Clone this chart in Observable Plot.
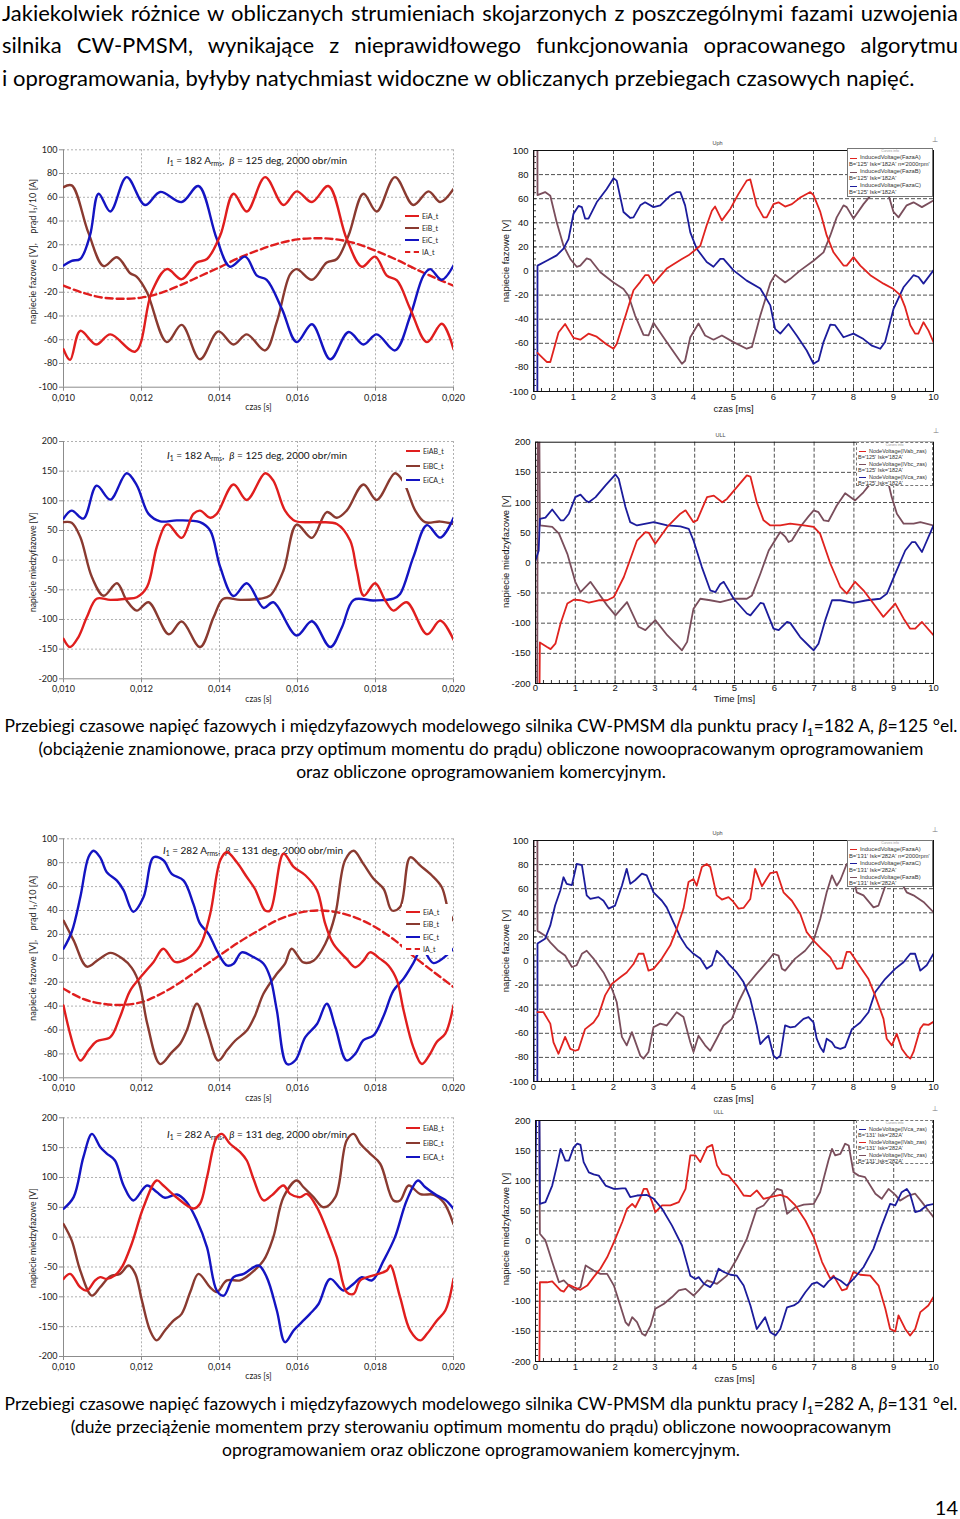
<!DOCTYPE html>
<html><head><meta charset="utf-8">
<script src="https://cdn.jsdelivr.net/npm/d3@7"></script>
<script src="https://cdn.jsdelivr.net/npm/@observablehq/plot@0.6"></script>
<style>
body{margin:0;background:#fff;}
#page{position:relative;width:960px;height:1519px;overflow:hidden;background:#fff;font-family:Lato,"Noto Sans",sans-serif;color:#000}
.jl{text-align:justify;text-align-last:justify}
sub{font-size:0.68em;line-height:0;vertical-align:-0.3em}
.cap{position:absolute;left:0;width:962px;text-align:center;font-size:17.5px;line-height:23px}
.ann{position:absolute;font-size:10px;line-height:14px;white-space:nowrap;color:#111}
.xleg{position:absolute;background:#fff;font-size:7px;color:#222}
.xleg .r{position:absolute;left:0;white-space:nowrap;line-height:10px;height:10px}
.xleg .sw{position:absolute;top:4px;left:0;width:14px;height:0}
.fleg{position:absolute;background:#fff;box-sizing:border-box;font-family:"Liberation Sans",Arial,sans-serif;color:#333;overflow:hidden}
.fleg .l{white-space:nowrap;position:relative}
.ico{position:absolute;font-size:7px;color:#777;font-family:"DejaVu Sans",sans-serif}
</style>
</head><body>
<div id="page">
  <div style="position:absolute;left:2px;top:-3.5px;width:956px;font-size:22px;line-height:32.5px">
    <div class="jl">Jakiekolwiek różnice w obliczanych strumieniach skojarzonych z poszczególnymi fazami uzwojenia</div>
    <div class="jl">silnika CW-PMSM, wynikające z nieprawidłowego funkcjonowania opracowanego algorytmu</div>
    <div>i oprogramowania, byłyby natychmiast widoczne w obliczanych przebiegach czasowych napięć.</div>
  </div>
  <div class="cap" style="top:714px">
    <div>Przebiegi czasowe napięć fazowych i międzyfazowych modelowego silnika CW-PMSM dla punktu pracy <i>I</i><sub>1</sub>=182 A, <i>β</i>=125 °el.</div>
    <div>(obciążenie znamionowe, praca przy optimum momentu do prądu) obliczone nowoopracowanym oprogramowaniem</div>
    <div>oraz obliczone oprogramowaniem komercyjnym.</div>
  </div>
  <div class="cap" style="top:1392px">
    <div>Przebiegi czasowe napięć fazowych i międzyfazowych modelowego silnika CW-PMSM dla punktu pracy <i>I</i><sub>1</sub>=282 A, <i>β</i>=131 °el.</div>
    <div>(duże przeciążenie momentem przy sterowaniu optimum momentu do prądu) obliczone nowoopracowanym</div>
    <div>oprogramowaniem oraz obliczone oprogramowaniem komercyjnym.</div>
  </div>
  <div style="position:absolute;right:2px;top:1494px;font-size:20px;line-height:26px">14</div>
</div>
<script>
// ---------------- tick values ----------------
const xTicksS = [0.010, 0.012, 0.014, 0.016, 0.018, 0.020];
const xTicksMs = [0, 1, 2, 3, 4, 5, 6, 7, 8, 9, 10];
const yT100 = [-100, -80, -60, -40, -20, 0, 20, 40, 60, 80, 100];
const yT200 = [-200, -150, -100, -50, 0, 50, 100, 150, 200];

// ---------------- chart 1: EiA/EiB/EiC/IA, 182 A (time [s], value) ----------------
const c1_EiA = [[0.01000,-68],[0.01017,-77],[0.01043,-52.5],[0.01084,-64],[0.01120,-55.5],[0.01184,-70],[0.01226,-20],[0.01265,-0.5],[0.01303,-9],[0.01342,5],[0.01368,8],[0.01402,28],[0.01436,63],[0.01470,48],[0.01517,77],[0.01564,53.5],[0.01598,65],[0.01637,56],[0.01679,69.5],[0.01726,25],[0.01765,1.5],[0.01799,10],[0.01829,-6],[0.01855,-10],[0.01889,-34],[0.01932,-62],[0.01970,-46.5],[0.02000,-68]];
const c1_EiB = [[0.01000,68.5],[0.01021,70],[0.01064,30],[0.01103,2],[0.01137,9.5],[0.01171,-4],[0.01188,-7],[0.01214,-20],[0.01265,-62],[0.01303,-47.5],[0.01350,-76.5],[0.01397,-53],[0.01436,-64],[0.01470,-55.5],[0.01517,-69],[0.01547,-45],[0.01581,-5],[0.01598,-0.5],[0.01637,-9.5],[0.01675,5],[0.01701,8],[0.01731,28],[0.01769,63],[0.01803,48],[0.01850,77],[0.01897,53.5],[0.01936,65],[0.01966,56],[0.02000,67]];
const c1_EiC = [[0.01000,2.5],[0.01021,6.5],[0.01043,8],[0.01068,28],[0.01090,63],[0.01120,48],[0.01162,77],[0.01209,53.5],[0.01248,64.5],[0.01303,56],[0.01346,69.5],[0.01393,25],[0.01427,1.5],[0.01466,10],[0.01496,-6],[0.01521,-9.5],[0.01560,-34],[0.01598,-62],[0.01637,-47],[0.01684,-76.5],[0.01731,-53.5],[0.01769,-64],[0.01803,-55.5],[0.01850,-69],[0.01889,-40],[0.01923,-6],[0.01940,-0.5],[0.01970,-9.5],[0.02000,2.5]];
const c1_IA = [[0.0100,-14.5],[0.0105,-20.5],[0.0110,-24.5],[0.0115,-25.5],[0.0120,-24.5],[0.0125,-20.5],[0.0130,-14],[0.0135,-6.5],[0.0140,1],[0.0145,9],[0.0150,15.5],[0.0155,21],[0.0160,24.5],[0.0165,25.5],[0.0170,24.5],[0.0175,21],[0.0180,15],[0.0185,8],[0.0190,0],[0.0195,-7.5],[0.0200,-14.5]];

// ---------------- chart 2: Flux Uph, 182 A (time [ms], value) ----------------
const c2_A = [[0.1,-68],[0.33,-75.5],[0.42,-75.5],[0.625,-51],[0.79,-44],[1.0,-55.5],[1.17,-57],[1.375,-52],[1.58,-54.5],[1.83,-61],[2.0,-64.5],[2.08,-60.5],[2.25,-42.5],[2.5,-16],[2.67,-9],[2.79,-3.5],[2.875,-3.5],[3.0,-10.5],[3.33,2],[3.71,10],[3.875,13],[4.17,21],[4.33,38],[4.46,50],[4.54,53.5],[4.71,42],[4.92,51.5],[5.125,64],[5.33,75],[5.42,76],[5.58,54.5],[5.75,44.5],[5.83,44.5],[6.0,55.5],[6.125,57],[6.29,53.5],[6.46,55.5],[6.67,61],[6.92,65.5],[7.0,63],[7.17,49],[7.33,29.5],[7.5,15.5],[7.75,4.5],[7.83,4.5],[8.0,11.5],[8.17,4.5],[8.42,-3.5],[8.75,-10.5],[9.0,-15],[9.17,-20],[9.29,-30],[9.42,-45],[9.54,-52],[9.62,-52],[9.75,-42.5],[9.875,-49.5],[10,-59]];
const c2_B = [[0,63],[0.02,300],[0.09,300],[0.1,63],[0.29,65.5],[0.42,62.5],[0.58,40.5],[0.75,21],[0.92,10],[1.08,3.5],[1.17,4.5],[1.33,10.5],[1.42,9.5],[1.67,-1],[2.0,-9.5],[2.25,-15],[2.375,-20.5],[2.54,-37],[2.75,-53],[2.875,-53.5],[3.0,-43],[3.33,-59],[3.71,-77],[3.79,-74.5],[3.92,-55],[4.125,-43.5],[4.29,-53.5],[4.5,-57],[4.71,-53.5],[5.0,-59],[5.33,-64.5],[5.46,-63],[5.67,-37],[5.92,-10],[6.04,-3],[6.17,-6.5],[6.29,-9.5],[6.42,-6.5],[6.67,0.5],[7.0,8.5],[7.25,15.5],[7.42,29.5],[7.58,44.5],[7.75,54.5],[7.83,53],[8.0,43.5],[8.25,55.5],[8.46,64],[8.67,76],[8.875,63],[9.0,49],[9.125,44.5],[9.33,54.5],[9.5,57],[9.71,53],[10,58.5]];
const c2_C = [[0,4],[0.02,-300],[0.09,-300],[0.1,4.5],[0.33,8.5],[0.58,13],[0.75,18.5],[0.875,26.5],[1.0,47.5],[1.125,54],[1.21,53],[1.29,43.5],[1.375,43.5],[1.58,57],[1.83,68],[2.0,77],[2.08,75],[2.25,49],[2.42,44],[2.5,44.5],[2.67,54.5],[2.79,57],[3.0,53],[3.17,54.5],[3.42,62.5],[3.58,65.5],[3.67,65.5],[3.79,54.5],[3.92,32],[4.08,18.5],[4.33,7.5],[4.5,3.5],[4.67,10],[4.75,10],[5.0,0.5],[5.33,-8],[5.67,-14.5],[5.92,-28.5],[6.04,-48],[6.17,-52],[6.375,-44],[6.58,-53.5],[6.83,-66],[7.0,-77],[7.125,-74.5],[7.25,-59],[7.42,-44.5],[7.54,-45],[7.75,-55],[8.0,-52],[8.25,-56.5],[8.46,-62],[8.67,-64.5],[8.79,-59],[9.0,-31.5],[9.25,-13.5],[9.5,-3.5],[9.625,-5],[9.75,-10.5],[10,0.5]];

// ---------------- chart 3: EiAB/EiBC/EiCA, 182 A ----------------
const c3_AB = [[0.01000,-132.5],[0.01017,-146.5],[0.01038,-130],[0.01060,-96],[0.01085,-65],[0.01120,-67],[0.01162,-65],[0.01188,-62.5],[0.01214,-45.5],[0.01239,22],[0.01261,58.5],[0.01270,60],[0.01303,37.5],[0.01333,78],[0.01350,83.5],[0.01376,71.5],[0.01393,78],[0.01436,127.5],[0.01470,101.5],[0.01517,146.5],[0.01538,134],[0.01568,83.5],[0.01594,66],[0.01650,64],[0.01701,61],[0.01735,33],[0.01752,-17],[0.01770,-60],[0.01799,-39],[0.01825,-68],[0.01846,-85],[0.01880,-71],[0.01932,-125],[0.01966,-102],[0.02000,-134]];
const c3_BC = [[0.01000,64],[0.01021,63],[0.01043,39],[0.01073,-29],[0.01103,-60],[0.01137,-39],[0.01162,-68],[0.01188,-85],[0.01218,-71],[0.01270,-125],[0.01303,-103.5],[0.01350,-146.5],[0.01385,-96],[0.01410,-65],[0.01453,-67],[0.01504,-65],[0.01530,-59.5],[0.01564,-17.5],[0.01598,60],[0.01637,37.5],[0.01675,81],[0.01701,71.5],[0.01726,83.5],[0.01769,127.5],[0.01803,101.5],[0.01850,146.5],[0.01872,131.5],[0.01902,83.5],[0.01927,64],[0.01966,65],[0.02000,61]];
const c3_CA = [[0.01000,70],[0.01021,83.5],[0.01051,70],[0.01085,125.5],[0.01120,102],[0.01162,146.5],[0.01188,126],[0.01218,78],[0.01248,65.5],[0.01291,67],[0.01350,64],[0.01376,50],[0.01402,-12],[0.01436,-60.5],[0.01470,-39],[0.01513,-80.5],[0.01538,-71],[0.01598,-127],[0.01637,-103],[0.01684,-146.5],[0.01714,-113],[0.01744,-67],[0.01795,-68],[0.01846,-65],[0.01863,-57],[0.01897,5],[0.01932,59],[0.01966,38],[0.02000,71]];

// ---------------- chart 4: Flux ULL, 182 A ----------------
const c4_AB = [[0,-300],[0.09,-300],[0.11,-132],[0.29,-139.5],[0.38,-143],[0.5,-134],[0.63,-100.5],[0.8,-67.5],[0.96,-61],[1.13,-62],[1.34,-66],[1.59,-62],[1.8,-62],[1.97,-56.5],[2.22,-23.5],[2.55,37],[2.76,51],[2.85,49.5],[3.01,31.5],[3.31,59.5],[3.64,81.5],[3.77,87],[3.97,67.5],[4.06,70.5],[4.31,109],[4.48,111.5],[4.69,100.5],[4.81,106],[5.06,125.5],[5.31,145],[5.4,143],[5.56,100.5],[5.73,70.5],[5.9,62],[6.15,62],[6.4,65],[6.74,62],[6.99,59.5],[7.15,48.5],[7.41,-1.5],[7.66,-40],[7.82,-51],[8.03,-31.5],[8.24,-45.5],[8.49,-67.5],[8.74,-89.5],[9.04,-67.5],[9.25,-92.5],[9.41,-109],[9.54,-109],[9.71,-98],[10,-120]];
const c4_BC = [[0.04,-300],[0.06,300],[0.09,300],[0.11,62],[0.42,59.5],[0.59,48.5],[0.8,15],[1.0,-31.5],[1.13,-48.5],[1.38,-31.5],[1.8,-70.5],[2.01,-87],[2.3,-65],[2.59,-106],[2.76,-111.5],[3.01,-95],[3.31,-120],[3.68,-145],[3.81,-131],[3.97,-76],[4.14,-59.5],[4.39,-62],[4.64,-65],[4.98,-59.5],[5.31,-59.5],[5.44,-54],[5.65,-18],[5.86,20.5],[6.07,43],[6.15,51],[6.28,43],[6.36,34.5],[6.44,37],[6.65,59.5],[6.86,77],[6.99,87],[7.11,84],[7.24,70.5],[7.36,69],[7.57,95],[7.78,115.5],[8.03,103.5],[8.24,117],[8.41,131],[8.67,145],[8.87,131],[8.95,109],[9.08,81.5],[9.25,65],[9.5,65],[9.67,67.5],[10,62]];
const c4_CA = [[0,4],[0.08,20],[0.11,73],[0.25,75],[0.42,88.5],[0.63,70.5],[0.71,70.5],[0.84,81.5],[1.0,109],[1.13,113],[1.26,103.5],[1.34,100.5],[1.51,109],[1.76,128.5],[2.01,146.5],[2.09,139.5],[2.26,92.5],[2.38,67.5],[2.55,62],[2.97,67.5],[3.31,62],[3.64,60.5],[3.85,56.5],[3.97,37],[4.18,-7],[4.39,-45.5],[4.52,-48.5],[4.64,-35.5],[4.73,-31.5],[4.98,-59.5],[5.31,-84],[5.4,-87],[5.65,-66.5],[5.73,-67.5],[5.98,-109],[6.11,-111.5],[6.32,-98],[6.4,-99.5],[6.65,-123],[6.9,-139.5],[6.99,-145],[7.11,-134],[7.28,-95],[7.45,-62],[7.66,-62],[7.99,-66.5],[8.33,-62],[8.66,-59.5],[8.83,-51],[9.04,-18],[9.29,20.5],[9.46,34.5],[9.54,34.5],[9.71,18],[10,62]];

// ---------------- chart 5: EiA/EiB/EiC/IA, 282 A ----------------
const c5_EiA = [[0.01000,-39.5],[0.01043,-85.5],[0.01064,-77],[0.01085,-69.5],[0.01120,-66],[0.01145,-49],[0.01171,-27],[0.01205,-13],[0.01231,-3],[0.01256,8],[0.01286,-3],[0.01316,-0.5],[0.01350,10.5],[0.01376,37],[0.01402,82],[0.01419,89],[0.01444,80.5],[0.01470,68],[0.01491,58],[0.01517,40],[0.01530,40],[0.01564,87.5],[0.01590,76.5],[0.01620,69.5],[0.01650,57],[0.01671,29],[0.01692,12],[0.01726,-0.5],[0.01748,-7.5],[0.01769,-2],[0.01786,5],[0.01812,-0.5],[0.01833,-6],[0.01855,-18.5],[0.01872,-43.5],[0.01897,-74.5],[0.01919,-88.5],[0.01940,-80],[0.01957,-70],[0.01979,-63],[0.02000,-39.5]];
const c5_EiB = [[0.01000,31.5],[0.01026,15],[0.01060,-7],[0.01090,-1],[0.01120,4.5],[0.01150,0],[0.01175,-8],[0.01195,-22],[0.01215,-55],[0.01248,-88.5],[0.01278,-78.5],[0.01299,-71.5],[0.01316,-60.5],[0.01342,-38],[0.01368,-60.5],[0.01397,-85.5],[0.01419,-77],[0.01440,-69],[0.01470,-60.5],[0.01491,-48],[0.01513,-29.5],[0.01547,-13],[0.01568,-4.5],[0.01585,8],[0.01615,-3.5],[0.01641,-2],[0.01671,12],[0.01697,37],[0.01722,82],[0.01744,90],[0.01769,79],[0.01795,66.5],[0.01821,58],[0.01842,40],[0.01863,43],[0.01889,84.5],[0.01915,77.5],[0.01944,69.5],[0.01970,59.5],[0.01987,40],[0.02000,31.5]];
const c5_EiC = [[0.01000,8],[0.01021,22],[0.01043,51],[0.01064,84.5],[0.01077,90],[0.01094,84.5],[0.01111,72],[0.01137,65],[0.01154,57],[0.01179,39],[0.01205,51],[0.01231,84.5],[0.01256,82],[0.01278,70.5],[0.01308,65],[0.01333,45.5],[0.01350,29],[0.01372,20.5],[0.01393,6.5],[0.01419,-6],[0.01436,-4.5],[0.01457,5],[0.01487,1],[0.01513,-4.5],[0.01530,-16],[0.01547,-43.5],[0.01573,-88.5],[0.01594,-85.5],[0.01620,-66],[0.01650,-55],[0.01675,-38],[0.01697,-57.5],[0.01726,-85.5],[0.01748,-80],[0.01769,-68.5],[0.01795,-64.5],[0.01821,-48],[0.01846,-27],[0.01872,-17],[0.01897,-4],[0.01919,8],[0.01949,-4],[0.02000,8]];
const c5_IA = [[0.0100,-25.5],[0.0105,-34],[0.0110,-38],[0.0115,-39],[0.0120,-36.7],[0.0125,-29.7],[0.0130,-20],[0.0135,-8.8],[0.0140,2.4],[0.0145,13.5],[0.0150,23.3],[0.0155,32.2],[0.0160,37.8],[0.0165,40],[0.0170,38.6],[0.0175,33.9],[0.0180,26],[0.0185,15],[0.0190,1],[0.0195,-11.6],[0.0200,-24]];

// ---------------- chart 6: Flux Uph, 282 A ----------------
const c6_A = [[0.1,-42.5],[0.25,-42.5],[0.42,-52],[0.5,-67.5],[0.625,-77],[0.79,-63],[0.92,-73],[1.04,-74.5],[1.125,-73.5],[1.29,-56.5],[1.5,-51],[1.625,-45],[1.79,-28.5],[1.96,-19],[2.17,-13.5],[2.33,-9.5],[2.5,-2.5],[2.625,6],[2.75,6],[2.875,-8],[3.0,-6.5],[3.21,2],[3.42,13],[3.58,26.5],[3.75,43.5],[3.875,65.5],[4.0,68],[4.08,62.5],[4.21,78],[4.33,80.5],[4.42,78],[4.58,54.5],[4.71,51],[4.875,53],[5.0,49],[5.125,43.5],[5.25,44],[5.42,51.5],[5.54,76.5],[5.71,62],[5.92,73],[6.08,74],[6.25,57],[6.46,50],[6.67,39],[6.83,24],[7.0,17],[7.25,8.5],[7.42,3],[7.58,-6.5],[7.71,-6],[7.83,7.5],[7.92,7.5],[8.17,-5],[8.375,-15],[8.54,-28.5],[8.75,-48],[8.83,-64.5],[8.96,-70],[9.08,-60.5],[9.21,-73],[9.33,-78.5],[9.42,-81],[9.5,-75.5],[9.67,-56],[9.75,-52.5],[9.875,-53],[10,-50.5]];
const c6_C = [[0,4],[0.02,-300],[0.09,-300],[0.1,14.5],[0.29,18.5],[0.42,29.5],[0.54,46],[0.67,58.5],[0.75,69.5],[0.83,64],[0.96,63],[1.08,80.5],[1.21,79.5],[1.33,54.5],[1.42,51.5],[1.625,53],[1.75,50],[1.875,43.5],[2.04,46],[2.21,62.5],[2.33,76.5],[2.42,64],[2.54,67],[2.71,72.5],[2.83,71],[3.0,57],[3.21,50],[3.33,44.5],[3.5,32],[3.67,20],[3.83,11.5],[4.0,6],[4.17,2],[4.33,-6.5],[4.46,-3.5],[4.58,8.5],[4.75,3],[4.875,-2.5],[5.08,-9.5],[5.25,-17.5],[5.42,-31.5],[5.58,-53.5],[5.67,-69],[5.79,-64.5],[5.875,-62],[6.0,-78.5],[6.08,-81],[6.17,-78.5],[6.29,-53.5],[6.42,-55],[6.54,-54.5],[6.75,-48],[6.875,-46.5],[7.0,-51],[7.08,-64.5],[7.17,-71.5],[7.25,-75.5],[7.33,-64.5],[7.46,-67.5],[7.54,-71.5],[7.67,-73],[7.79,-71.5],[7.96,-56.5],[8.17,-51],[8.375,-42.5],[8.54,-26],[8.79,-15],[9.04,-6.5],[9.25,-1],[9.42,6],[9.54,6],[9.67,-8],[9.83,-3.5],[10,6]];
const c6_B = [[0,25],[0.02,300],[0.09,300],[0.1,25],[0.29,21],[0.42,15.5],[0.625,8.5],[0.79,4.5],[0.96,-5],[1.08,-3.5],[1.21,6],[1.33,8.5],[1.5,2],[1.75,-9.5],[1.96,-23],[2.08,-34],[2.21,-63],[2.33,-70],[2.46,-59],[2.67,-78.5],[2.75,-81],[2.875,-75.5],[3.0,-55],[3.17,-52],[3.33,-53.5],[3.58,-42.5],[3.75,-46.5],[3.92,-67.5],[4.0,-75.5],[4.125,-62],[4.29,-70],[4.42,-74.5],[4.58,-64.5],[4.75,-53.5],[4.96,-48],[5.125,-34],[5.33,-20.5],[5.58,-10.5],[5.83,-1],[6.0,6],[6.125,4.5],[6.21,-6.5],[6.29,-8],[6.54,2],[6.79,8.5],[7.0,17],[7.17,35],[7.33,57],[7.46,71],[7.58,62.5],[7.67,67],[7.83,80.5],[7.96,76.5],[8.08,57],[8.25,54.5],[8.5,44.5],[8.625,46],[8.83,65.5],[9.0,76],[9.21,64],[9.33,57],[9.5,54.5],[9.75,49],[10,40.5]];

// ---------------- chart 7: EiAB/EiBC/EiCA, 282 A ----------------
const c7_AB = [[0.01000,-70],[0.01017,-61.5],[0.01043,-84],[0.01060,-89.5],[0.01081,-72.5],[0.01094,-67],[0.01111,-70],[0.01132,-64],[0.01150,-50],[0.01175,-11],[0.01205,50],[0.01239,95],[0.01256,86.5],[0.01291,66],[0.01333,48],[0.01350,56],[0.01368,100.5],[0.01393,167.5],[0.01406,173],[0.01427,156.5],[0.01453,142.5],[0.01470,128.5],[0.01487,98],[0.01513,61.5],[0.01534,70],[0.01564,86.5],[0.01581,72.5],[0.01607,67],[0.01624,72.5],[0.01650,50],[0.01679,5.5],[0.01701,-33.5],[0.01726,-92],[0.01744,-95],[0.01761,-72.5],[0.01795,-64],[0.01829,-56],[0.01838,-47.5],[0.01863,-100.5],[0.01889,-156.5],[0.01915,-173],[0.01932,-162],[0.01957,-140],[0.01979,-123],[0.02000,-70]];
const c7_BC = [[0.01000,22],[0.01021,-5.5],[0.01043,-56],[0.01073,-98],[0.01094,-84],[0.01120,-65.5],[0.01145,-61.5],[0.01167,-47.5],[0.01184,-61.5],[0.01201,-106],[0.01222,-156.5],[0.01239,-173],[0.01260,-156.5],[0.01282,-140],[0.01303,-128.5],[0.01325,-92],[0.01346,-61.5],[0.01376,-84],[0.01393,-92],[0.01419,-72.5],[0.01453,-72.5],[0.01479,-61.5],[0.01513,-39],[0.01538,0],[0.01564,67],[0.01598,95],[0.01615,84],[0.01641,67],[0.01667,50],[0.01697,67],[0.01726,162],[0.01744,173],[0.01761,156.5],[0.01786,140],[0.01812,123],[0.01846,61.5],[0.01863,61.5],[0.01885,86.5],[0.01915,72],[0.01950,71],[0.01975,58],[0.02000,22]];
const c7_CA = [[0.01000,47.5],[0.01026,67],[0.01051,134],[0.01073,173],[0.01094,151],[0.01111,140],[0.01132,128.5],[0.01154,86.5],[0.01179,61.5],[0.01214,86.5],[0.01239,75.5],[0.01260,66],[0.01291,71.5],[0.01316,58.5],[0.01342,28],[0.01368,-17],[0.01393,-89.5],[0.01411,-98],[0.01436,-67],[0.01462,-61.5],[0.01500,-47.5],[0.01521,-67],[0.01547,-123],[0.01568,-176],[0.01590,-156.5],[0.01611,-142.5],[0.01632,-128.5],[0.01654,-112],[0.01684,-70],[0.01718,-89.5],[0.01744,-78],[0.01765,-67],[0.01791,-72.5],[0.01821,-39],[0.01850,0],[0.01880,61.5],[0.01909,95],[0.01927,84],[0.01957,70],[0.01979,62.5],[0.02000,47.5]];

// ---------------- chart 8: Flux ULL, 282 A ----------------
const c8_CA = [[0,100],[0.03,300],[0.09,300],[0.11,61.5],[0.25,64.5],[0.42,92],[0.54,125.5],[0.63,153],[0.75,133.5],[0.84,133.5],[0.96,155.5],[1.05,161.5],[1.13,159.5],[1.21,131],[1.34,114],[1.46,110.5],[1.59,108.5],[1.76,92],[1.97,86.5],[2.05,86.5],[2.18,87.5],[2.26,87.5],[2.38,73],[2.55,75.5],[2.8,76.5],[2.97,70],[3.18,53.5],[3.43,25.5],[3.68,-7.5],[3.89,-57.5],[4.02,-63],[4.1,-60],[4.23,-71],[4.39,-76.5],[4.48,-68.5],[4.6,-46],[4.73,-51.5],[4.9,-56],[5.06,-57.5],[5.23,-74],[5.4,-107],[5.56,-146],[5.77,-126.5],[5.9,-151.5],[6.03,-157],[6.15,-146],[6.32,-110],[6.49,-107],[6.61,-101.5],[6.78,-85],[6.95,-71],[7.07,-68.5],[7.24,-76.5],[7.36,-67],[7.49,-60],[7.66,-65.5],[7.82,-74],[7.99,-63],[8.24,-43.5],[8.49,-13],[8.7,25.5],[8.91,61.5],[9.04,59],[9.2,81],[9.33,86.5],[9.41,78.5],[9.54,48],[9.67,50.5],[9.83,59],[10,61.5]];
const c8_AB = [[0,-300],[0.09,-300],[0.11,-68.5],[0.29,-68.5],[0.42,-67],[0.63,-82],[0.71,-84],[0.84,-72.5],[0.96,-76.5],[1.13,-81],[1.3,-74],[1.46,-60],[1.63,-46],[1.8,-27],[1.97,-2],[2.18,31.5],[2.3,53.5],[2.43,61.5],[2.51,56],[2.64,73],[2.72,86.5],[2.8,86.5],[2.93,64.5],[3.01,48],[3.18,59],[3.39,59],[3.6,64.5],[3.77,86.5],[3.89,142],[4.02,142],[4.14,131],[4.31,155.5],[4.44,159.5],[4.56,125.5],[4.69,111.5],[4.85,108.5],[5.06,92],[5.23,75.5],[5.4,74.5],[5.56,84],[5.73,70],[5.9,73],[6.15,76.5],[6.32,73],[6.53,59],[6.78,34],[6.99,6.5],[7.2,-35],[7.41,-63],[7.49,-57.5],[7.7,-82],[7.82,-79.5],[7.99,-51.5],[8.16,-56],[8.41,-57.5],[8.62,-74],[8.79,-112.5],[8.91,-146],[9.04,-150],[9.12,-123.5],[9.29,-146],[9.41,-157],[9.54,-146],[9.67,-118],[9.87,-107],[10,-93]];
const c8_BC = [[0.04,300],[0.09,300],[0.11,12],[0.25,1],[0.42,-35],[0.59,-68.5],[0.71,-65.5],[0.88,-76.5],[1.0,-82],[1.13,-76.5],[1.26,-40.5],[1.46,-49],[1.63,-54.5],[1.8,-54.5],[1.97,-74],[2.13,-107],[2.26,-134.5],[2.34,-140.5],[2.43,-126.5],[2.55,-134.5],[2.68,-154],[2.76,-157],[2.89,-140.5],[3.01,-112.5],[3.22,-104.5],[3.43,-93],[3.6,-82],[3.77,-79.5],[3.97,-90.5],[4.1,-82],[4.31,-65.5],[4.56,-71],[4.81,-57.5],[5.06,-29.5],[5.31,3.5],[5.56,53.5],[5.73,59],[5.9,73],[6.07,86.5],[6.19,84],[6.32,45],[6.53,56],[6.74,60.5],[6.99,61.5],[7.15,81],[7.36,133.5],[7.45,153],[7.53,142],[7.66,144.5],[7.78,161.5],[7.87,158.5],[7.99,114],[8.12,108.5],[8.28,106],[8.54,78.5],[8.7,70],[8.87,86.5],[9.04,76.5],[9.16,67],[9.37,75.5],[9.54,78.5],[9.71,64.5],[9.87,50.5],[10,39.5]];

// ---------------- colours ----------------
const XL = {red: "#e01e1e", brown: "#8a3a30", blue: "#1414c2"};
const FX = {red: "#e0231f", mauve: "#7a4e5c", blue: "#1c1c9c"};

const page = document.getElementById("page");
function place(el, left, top, z) {
  el.style.position = "absolute";
  el.style.left = left + "px";
  el.style.top = top + "px";
  el.style.zIndex = z;
  page.appendChild(el);
  return el;
}
const fmtS = d => d.toFixed(3).replace(".", ",");
const NB = "\u00a0";

function excelChart(c) {
  const yGrid = c.yTicks.slice(1);
  return Plot.plot({
    width: c.w, height: c.h,
    marginLeft: c.ml, marginRight: c.mr, marginTop: c.mt, marginBottom: c.mb,
    x: {domain: [0.010, 0.020], label: null},
    y: {domain: [c.yTicks[0], c.yTicks[c.yTicks.length - 1]], label: null},
    style: {background: "transparent", fontFamily: "Lato, sans-serif", color: "#222", overflow: "visible"},
    marks: [
      Plot.gridX(xTicksS.slice(1), {stroke: "#b0b0b0", strokeOpacity: 1, strokeDasharray: "2,2"}),
      Plot.gridY(yGrid, {stroke: "#b0b0b0", strokeOpacity: 1, strokeDasharray: "2,2"}),
      Plot.ruleX([0.010], {stroke: "#8c8c8c"}),
      Plot.ruleY([c.yTicks[0]], {stroke: "#8c8c8c"}),
      Plot.axisX(xTicksS, {tickSize: 4, tickPadding: 3, tickFormat: fmtS, fontSize: 9, stroke: "#8c8c8c", fill: "#222", label: null}),
      Plot.axisY(c.yTicks, {tickSize: 4, tickPadding: 2, tickFormat: d => String(d), fontSize: 9, stroke: "#8c8c8c", fill: "#222", label: null}),
      ...c.series.map(s => Plot.line(s.data, {x: d => d[0], y: d => d[1], stroke: s.color, strokeWidth: 2.4, strokeDasharray: s.dash, curve: "catmull-rom", clip: true})),
      Plot.text([c.xlabel], {text: d => d, frameAnchor: "bottom", textAnchor: "middle", lineAnchor: "middle", dy: c.xlDy, fontSize: 8.5, fill: "#222"}),
      Plot.text([c.ylabel], {text: d => d, frameAnchor: "left", textAnchor: "middle", lineAnchor: "middle", rotate: -90, dx: -30, dy: c.ylDy, fontSize: c.ylFs || 8.5, fill: "#222"})
    ]
  });
}

function fluxChart(c) {
  const minorX = d3.range(0, 10.001, 0.2);
  const minorY = d3.range(c.yTicks[0], c.yTicks[c.yTicks.length - 1] + 0.1, c.minorStep);
  return Plot.plot({
    width: c.w, height: c.h,
    marginLeft: c.ml, marginRight: c.mr, marginTop: c.mt, marginBottom: c.mb,
    x: {domain: [0, 10], label: null},
    y: {domain: [c.yTicks[0], c.yTicks[c.yTicks.length - 1]], label: null},
    style: {background: "transparent", fontFamily: "'Liberation Sans', Arial, sans-serif", color: "#111", overflow: "visible"},
    marks: [
      Plot.gridX(xTicksMs.slice(1, -1), {stroke: "#505050", strokeOpacity: 1, strokeDasharray: "4,2"}),
      Plot.gridY(c.yTicks.slice(1, -1), {stroke: "#505050", strokeOpacity: 1, strokeDasharray: "4,2"}),
      Plot.axisX(minorX, {tickSize: 3, dy: -3, tickFormat: () => "", stroke: "#333", label: null}),
      Plot.axisY(minorY, {tickSize: 3, dx: 3, tickFormat: () => "", stroke: "#333", label: null}),
      Plot.axisX(xTicksMs, {tickSize: 0, tickPadding: c.xPad, tickFormat: d => String(d), fontSize: 9.5, label: null}),
      Plot.axisY(c.yTicks, {tickSize: 0, tickPadding: 5, tickFormat: d => String(d), fontSize: 9.5, label: null}),
      ...c.series.map(s => Plot.line(s.data, {x: d => d[0], y: d => d[1], stroke: s.color, strokeWidth: 1.8, curve: "linear", clip: true})),
      Plot.frame({stroke: "#111"}),
      Plot.text([c.title], {text: d => d, frameAnchor: "top", textAnchor: "middle", lineAnchor: "middle", dx: c.tDx, dy: c.tDy, fontSize: 5.5, fill: "#444"}),
      Plot.text([c.xlabel], {text: d => d, frameAnchor: "bottom", textAnchor: "middle", lineAnchor: "middle", dy: c.xlDy, fontSize: 9.5, fill: "#111"}),
      Plot.text([c.ylabel], {text: d => d, frameAnchor: "left", textAnchor: "middle", lineAnchor: "middle", rotate: -90, dx: c.ylDx, dy: c.ylDy, fontSize: 9.5, fill: "#111"})
    ]
  });
}

function annotation(left, cy, ampsVal, betaVal) {
  const d = document.createElement("div");
  d.className = "ann";
  d.innerHTML = `<i>I</i><sub>1</sub> = ${ampsVal} A<sub>rms</sub>,&nbsp; <i>β</i> = ${betaVal} deg, 2000 obr/min`;
  place(d, left, cy - 7, 1);
}

function excelLegend(left, top, width, height, rows, rowTop, rowStep) {
  const box = document.createElement("div");
  box.className = "xleg";
  box.style.width = width + "px";
  box.style.height = height + "px";
  rows.forEach((r, i) => {
    const row = document.createElement("div");
    row.className = "r";
    row.style.top = (rowTop + i * rowStep - 5) + "px";
    row.style.width = width + "px";
    row.innerHTML = `<span class="sw" style="left:4px;border-top:2px ${r.dash ? "dashed" : "solid"} ${r.color}"></span><span style="position:absolute;left:21px;top:0">${r.label}</span>`;
    box.appendChild(row);
  });
  place(box, left, top, 3);
}

function fluxLegend(left, top, width, height, items, lineH, fs, dashed) {
  const box = document.createElement("div");
  box.className = "fleg";
  box.style.width = width + "px";
  box.style.height = height + "px";
  box.style.border = `1px ${dashed ? "dashed" : "solid"} #777`;
  box.style.fontSize = fs + "px";
  box.style.lineHeight = lineH + "px";
  let html = `<div class="l" style="text-align:center;font-size:3.5px;height:${lineH - 2}px;line-height:${lineH - 2}px;color:#999">Curves info</div>`;
  items.forEach(it => {
    html += `<div class="l" style="padding-left:12px"><span style="position:absolute;left:2px;top:${lineH / 2}px;width:7px;border-top:1px solid ${it.color}"></span>${it.name}</div>`;
    html += `<div class="l" style="padding-left:1px">${it.info}</div>`;
  });
  box.innerHTML = html;
  place(box, left, top, 3);
}

function icon(left, top) {
  const d = document.createElement("div");
  d.className = "ico";
  d.textContent = "⊥";
  place(d, left, top, 3);
}

const ylPhase = "napiecie fazowe [V]," + NB + NB + NB + NB + "prąd I₁/10 [A]";

// ---------- chart 1 ----------
annotation(167, 160, 182, 125);
place(excelChart({
  w: 480, h: 280, ml: 63, mr: 27, mt: 14.3, mb: 28.3, yTicks: yT100,
  xlabel: "czas [s]", ylabel: ylPhase, ylFs: 9.2, xlDy: 20, ylDy: -17,
  series: [
    {data: c1_IA, color: XL.red, dash: "7,4"},
    {data: c1_EiB, color: XL.brown},
    {data: c1_EiC, color: XL.blue},
    {data: c1_EiA, color: XL.red}
  ]
}), 0, 135, 2);
excelLegend(401, 208, 51, 50, [
  {label: "EiA_t", color: XL.red}, {label: "EiB_t", color: XL.brown},
  {label: "EiC_t", color: XL.blue}, {label: "IA_t", color: XL.red, dash: true}
], 8, 12);

// ---------- chart 2 ----------
place(fluxChart({
  w: 480, h: 280, ml: 53, mr: 27, mt: 15, mb: 24, yTicks: yT100, minorStep: 5, xPad: 2,
  title: "Uph", tDx: -16, tDy: -7, xlabel: "czas [ms]", ylabel: "napiecie fazowe [V]",
  xlDy: 17, ylDx: -28, ylDy: -10,
  series: [{data: c2_B, color: FX.mauve}, {data: c2_C, color: FX.blue}, {data: c2_A, color: FX.red}]
}), 480, 135, 2);
fluxLegend(847, 148, 86, 49, [
  {name: "InducedVoltage(FazaA)", info: "B='125' Isk='182A' n='2000rpm'", color: FX.red},
  {name: "InducedVoltage(FazaB)", info: "B='125' Isk='182A'", color: FX.mauve},
  {name: "InducedVoltage(FazaC)", info: "B='125' Isk='182A'", color: FX.blue}
], 7, 5.8, false);
icon(932, 136);

// ---------- chart 3 ----------
annotation(167, 455, 182, 125);
place(excelChart({
  w: 480, h: 275, ml: 63, mr: 27, mt: 11, mb: 26.7, yTicks: yT200,
  xlabel: "czas [s]", ylabel: "napiecie miedzyfazowe [V]", xlDy: 20, ylDy: 2,
  series: [
    {data: c3_BC, color: XL.brown},
    {data: c3_CA, color: XL.blue},
    {data: c3_AB, color: XL.red}
  ]
}), 0, 430, 2);
excelLegend(402, 443, 50, 45, [
  {label: "EiAB_t", color: XL.red}, {label: "EiBC_t", color: XL.brown}, {label: "EiCA_t", color: XL.blue}
], 8, 14.5);

// ---------- chart 4 ----------
place(fluxChart({
  w: 480, h: 275, ml: 55, mr: 27, mt: 11.7, mb: 22, yTicks: yT200, minorStep: 10, xPad: 0.5,
  title: "ULL", tDx: -14, tDy: -6.5, xlabel: "Time [ms]", ylabel: "napiecie miedzyfazowe [V]",
  xlDy: 15, ylDx: -30, ylDy: -11,
  series: [{data: c4_BC, color: FX.mauve}, {data: c4_CA, color: FX.blue}, {data: c4_AB, color: FX.red}]
}), 480, 430, 2);
fluxLegend(856, 442, 77, 44, [
  {name: "NodeVoltage(IVab_zas)", info: "B='125' Isk='182A'", color: FX.red},
  {name: "NodeVoltage(IVbc_zas)", info: "B='125' Isk='182A'", color: FX.mauve},
  {name: "NodeVoltage(IVca_zas)", info: "B='125' Isk='182A'", color: FX.blue}
], 6.5, 5.5, true);
icon(933, 427);

// ---------- chart 5 ----------
annotation(163, 850, 282, 131);
place(excelChart({
  w: 480, h: 275, ml: 63, mr: 27, mt: 8.3, mb: 27.7, yTicks: yT100,
  xlabel: "czas [s]", ylabel: ylPhase, ylFs: 9.2, xlDy: 20.5, ylDy: -10,
  series: [
    {data: c5_IA, color: XL.red, dash: "7,4"},
    {data: c5_EiB, color: XL.brown},
    {data: c5_EiC, color: XL.blue},
    {data: c5_EiA, color: XL.red}
  ]
}), 0, 830, 2);
excelLegend(402, 904, 50, 51, [
  {label: "EiA_t", color: XL.red}, {label: "EiB_t", color: XL.brown},
  {label: "EiC_t", color: XL.blue}, {label: "IA_t", color: XL.red, dash: true}
], 8, 12.3);

// ---------- chart 6 ----------
place(fluxChart({
  w: 480, h: 280, ml: 53, mr: 27, mt: 15, mb: 24, yTicks: yT100, minorStep: 5, xPad: 2,
  title: "Uph", tDx: -16, tDy: -7, xlabel: "czas [ms]", ylabel: "napiecie fazowe [V]",
  xlDy: 17, ylDx: -28, ylDy: -10,
  series: [{data: c6_B, color: FX.mauve}, {data: c6_C, color: FX.blue}, {data: c6_A, color: FX.red}]
}), 480, 825, 2);
fluxLegend(847, 840, 86, 47, [
  {name: "InducedVoltage(FazaA)", info: "B='131' Isk='282A' n='2000rpm'", color: FX.red},
  {name: "InducedVoltage(FazaC)", info: "B='131' Isk='282A'", color: FX.blue},
  {name: "InducedVoltage(FazaB)", info: "B='131' Isk='282A'", color: FX.mauve}
], 6.9, 5.8, false);
icon(932, 826);

// ---------- chart 7 ----------
annotation(167, 1134, 282, 131);
place(excelChart({
  w: 480, h: 275, ml: 63, mr: 27, mt: 7.3, mb: 29, yTicks: yT200,
  xlabel: "czas [s]", ylabel: "napiecie miedzyfazowe [V]", xlDy: 20, ylDy: 1,
  series: [
    {data: c7_BC, color: XL.brown},
    {data: c7_CA, color: XL.blue},
    {data: c7_AB, color: XL.red}
  ]
}), 0, 1110, 2);
excelLegend(402, 1120, 50, 45, [
  {label: "EiAB_t", color: XL.red}, {label: "EiBC_t", color: XL.brown}, {label: "EiCA_t", color: XL.blue}
], 8, 14.5);

// ---------- chart 8 ----------
place(fluxChart({
  w: 480, h: 280, ml: 55, mr: 27, mt: 15, mb: 24, yTicks: yT200, minorStep: 10, xPad: 2,
  title: "ULL", tDx: -16, tDy: -8, xlabel: "czas [ms]", ylabel: "napiecie miedzyfazowe [V]",
  xlDy: 17, ylDx: -30, ylDy: -12,
  series: [{data: c8_BC, color: FX.mauve}, {data: c8_AB, color: FX.red}, {data: c8_CA, color: FX.blue}]
}), 480, 1105, 2);
fluxLegend(856, 1120, 77, 44, [
  {name: "NodeVoltage(IVca_zas)", info: "B='131' Isk='282A'", color: FX.blue},
  {name: "NodeVoltage(IVab_zas)", info: "B='131' Isk='282A'", color: FX.red},
  {name: "NodeVoltage(IVbc_zas)", info: "B='131' Isk='282A'", color: FX.mauve}
], 6.5, 5.5, true);
icon(932, 1105);
</script>
</body></html>
